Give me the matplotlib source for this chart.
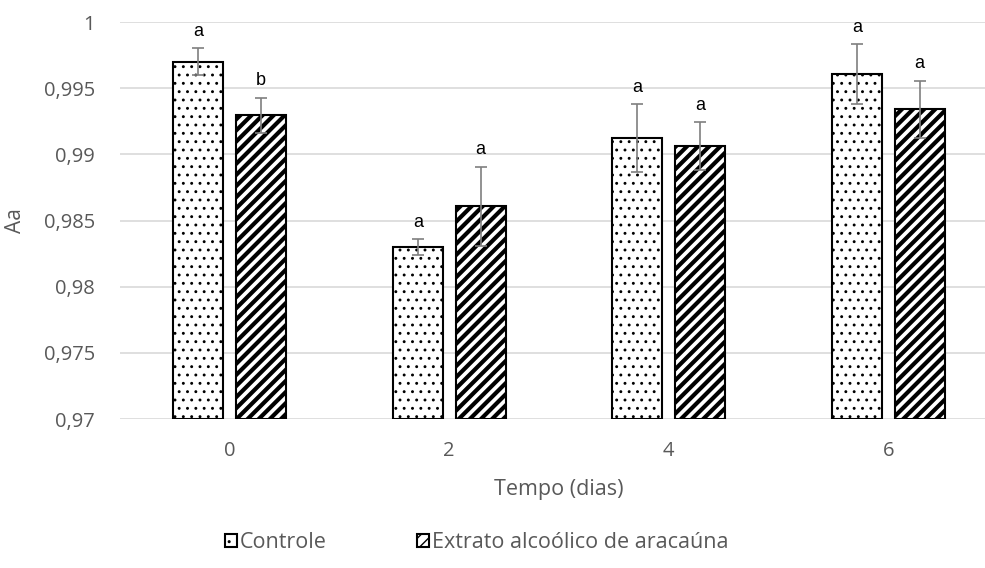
import matplotlib
matplotlib.use("Agg")
import matplotlib.pyplot as plt
import numpy as np

# data
dias = ["0", "2", "4", "6"]
controle = [0.9970, 0.9830, 0.99124, 0.99604]
controle_err = [0.0010, 0.00058, 0.00255, 0.00227]
extrato = [0.99295, 0.98608, 0.99063, 0.99339]
extrato_err = [0.00133, 0.0030, 0.0018, 0.00218]
letras_controle = ["a", "a", "a", "a"]
letras_extrato = ["b", "a", "a", "a"]
yticks = [0.97, 0.975, 0.98, 0.985, 0.99, 0.995, 1.0]
ytick_labels = ["0,97", "0,975", "0,98", "0,985", "0,99", "0,995", "1"]

W, H = 985, 568
fig = plt.figure(figsize=(W / 100, H / 100), dpi=100)
ax = fig.add_axes([120 / W, 1 - 419 / H, 878 / W, 397 / H])

x = np.arange(len(dias))
bw = 0.228
off = 0.1435
gray = "#595959"
font = "Open Sans"

with plt.rc_context({"hatch.linewidth": 0.9}):
    b1 = ax.bar(x - off, np.array(controle) - 0.97, bw, bottom=0.97,
                color="white", edgecolor="black", linewidth=1.5,
                hatch="..", label="Controle", zorder=3)
with plt.rc_context({"hatch.linewidth": 3.0}):
    b2 = ax.bar(x + off, np.array(extrato) - 0.97, bw, bottom=0.97,
                color="white", edgecolor="black", linewidth=1.5,
                hatch="///", label="Extrato alcoólico de aracaúna", zorder=3)

ax.errorbar(x - off, controle, yerr=controle_err, fmt="none",
            ecolor="#7f7f7f", elinewidth=1.2, capsize=4.3, capthick=1.2, zorder=4)
ax.errorbar(x + off, extrato, yerr=extrato_err, fmt="none",
            ecolor="#7f7f7f", elinewidth=1.2, capsize=4.3, capthick=1.2, zorder=4)

for xi, v, e, t in zip(x - off, controle, controle_err, letras_controle):
    ax.annotate(t, (xi, v + e), xytext=(0, 6), textcoords="offset points",
                ha="center", va="bottom", fontsize=13, family="Liberation Sans")
for xi, v, e, t in zip(x + off, extrato, extrato_err, letras_extrato):
    ax.annotate(t, (xi, v + e), xytext=(0, 6), textcoords="offset points",
                ha="center", va="bottom", fontsize=13, family="Liberation Sans")

ax.set_xlim(-0.5, 3.5)
ax.set_ylim(0.97, 1.0)
ax.set_yticks(yticks)
ax.set_yticklabels(ytick_labels, fontsize=14.5, color=gray, family=font)
ax.set_xticks(x)
ax.set_xticklabels(dias, fontsize=14.5, color=gray, family=font)
ax.tick_params(length=0, pad=18)
ax.tick_params(axis="x", pad=16)
for s in ax.spines.values():
    s.set_visible(False)
ax.grid(axis="y", color="#d9d9d9", linewidth=1.2, zorder=0)
ax.set_axisbelow(True)

ax.set_ylabel("Aa", fontsize=15, color=gray, family=font)
ax.yaxis.set_label_coords(-94 / 878, 0.5)
ax.set_xlabel("Tempo (dias)", fontsize=15.5, color=gray, family=font, labelpad=13)

fig.legend(handles=[b1, b2], loc="center", bbox_to_anchor=(477 / W, 1 - 543 / H),
           ncol=2, frameon=False, prop={"family": font, "size": 15.5},
           handlelength=0.55, handleheight=0.55, handletextpad=0.15, columnspacing=4.2,
           labelcolor=gray)

fig.savefig("out.png", dpi=100)
